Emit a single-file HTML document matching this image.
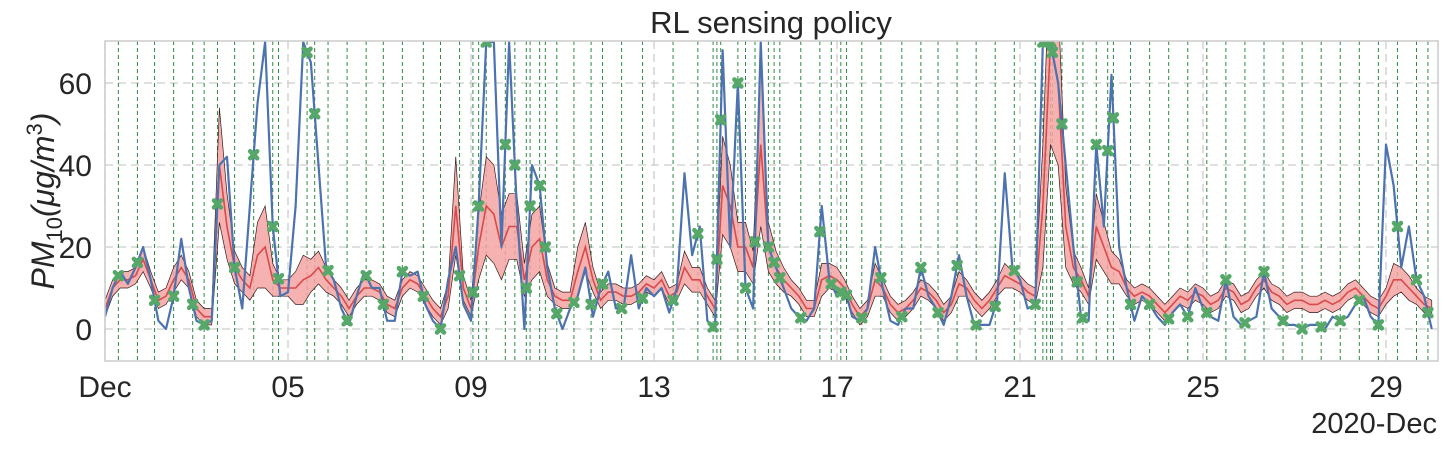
<!DOCTYPE html>
<html><head><meta charset="utf-8"><style>
body{margin:0;background:#fff;}
svg text{font-family:"Liberation Sans",sans-serif;fill:#262626;}
</style></head><body>
<svg id="chart" width="1448" height="447" xmlns="http://www.w3.org/2000/svg">
<text x="771" y="33" font-size="31" text-anchor="middle">RL sensing policy</text>
<text transform="translate(54,201) rotate(-90)" font-size="32" text-anchor="middle" font-style="italic">PM<tspan font-size="22" dy="8" font-style="normal">10</tspan><tspan dy="-8">(μg/m</tspan><tspan font-size="22" dy="-12" font-style="normal">3</tspan><tspan dy="12">)</tspan></text>
<text x="1437" y="433" font-size="29" text-anchor="end">2020-Dec</text>
<g id="grid"></g>
<defs><clipPath id="clip"><rect x="105" y="41" width="1333" height="320"/></clipPath></defs>
<g id="plot" clip-path="url(#clip)"></g>
<g id="axes"></g>
<rect x="105" y="41" width="1333" height="320" fill="none" stroke="#cccccc" stroke-width="1.5"/>
</svg>
<script>
const blue=[3,10,14,11,15,20,12,2,0,8,22,10,2,1,2,40,42,15,5,30,55,70,25,8,9,30,70,65,40,15,12,5,1,8,14,10,10,2,2,14,13,14,6,2,0,12,20,6,2,30,70,70,20,70,30,0,40,35,15,5,0,5,8,15,3,10,14,5,5,18,5,10,8,10,4,10,38,18,25,2,0,68,20,60,10,5,70,20,15,10,5,3,2,5,30,12,8,10,3,2,5,20,10,2,1,5,5,15,8,5,1,8,18,8,1,1,1,7,38,15,12,5,6,70,70,60,40,20,3,2,45,25,62,20,10,2,8,6,3,1,4,6,3,10,5,3,2,12,3,1,2,3,14,5,3,1,1,0,1,1,0,3,2,3,6,8,3,1,45,35,15,25,12,8,0];
const redMean=[5,10,12,12,13,17,12,7,8,12,15,12,5,3,3,40,25,15,12,10,18,20,12,10,10,10,12,13,15,12,10,8,5,8,10,10,9,6,5,10,12,11,8,5,3,8,30,10,5,20,30,28,20,25,25,12,20,22,12,8,7,7,14,20,12,7,9,9,8,8,9,11,10,12,8,9,15,12,12,8,5,35,30,20,20,15,45,20,15,12,10,8,5,5,12,13,12,10,6,3,5,12,10,6,4,5,7,10,9,7,4,6,11,10,7,5,7,10,13,12,11,9,8,30,70,60,25,15,12,8,25,20,15,14,10,8,9,8,6,4,6,8,7,9,8,6,7,10,9,6,7,10,12,9,8,6,7,7,6,6,7,6,7,9,10,8,6,5,8,12,12,10,8,6,5];
const redHalf=[2,2,2,2,2,3,2,2,2,3,3,2,2,2,2,14,8,4,3,3,8,10,4,2,2,4,6,4,4,3,2,2,2,2,2,2,2,2,2,2,2,2,2,2,2,3,12,3,2,8,12,12,8,8,8,4,8,8,4,2,2,2,6,6,3,2,2,2,2,2,2,2,2,2,2,2,4,3,3,2,2,12,10,6,6,4,20,6,4,3,2,2,2,2,4,3,3,2,2,2,2,4,2,2,2,2,2,2,2,2,2,2,3,2,2,2,2,2,3,2,2,2,2,15,25,20,10,4,3,2,8,6,4,3,2,2,2,2,2,2,2,2,2,2,2,2,2,2,2,2,2,2,2,2,2,2,2,2,2,2,2,2,2,2,2,2,2,2,2,4,3,3,2,2,2];
const sampleHours=[7,17,26,36,46,52,59,68,78,88,91,106,110,117,127,137,146,156,167,176,186,193,196,200,210,215,221,223,228,231,237,246,255,261,271,282,298,311,319,321,323,332,336,341,348,351,354,365,375,381,386,389,397,407,418,428,437,447,457,467,477,488,492,494,496,497,502,510,513,520,526,529,538,548,558,568,578,588,598,608,618,628,638,648,658,668,678,688,694];
const yTicks=[0,20,40,60];
const xTickDays=[1,5,9,13,17,21,25,29];
const xTickLabels=["Dec","05","09","13","17","21","25","29"];
const STEP=4;
const NS="http://www.w3.org/2000/svg";
const X0=105,PXD=45.75;
function xh(h){return X0+h/24*PXD;}
function xd(d){return X0+(d-1)*PXD;}
function yv(v){return 329-4.1*v;}
function mk(tag,attrs,parent){const e=document.createElementNS(NS,tag);for(const k in attrs)e.setAttribute(k,attrs[k]);parent.appendChild(e);return e;}
function blueAt(h){const i=h/STEP,i0=Math.floor(i),t=i-i0;const a=blue[Math.min(i0,blue.length-1)],b=blue[Math.min(i0+1,blue.length-1)];return a+(b-a)*t;}
const grid=document.getElementById('grid'),plot=document.getElementById('plot'),axes=document.getElementById('axes');
yTicks.forEach(v=>{
  const l=mk('line',{x1:105,x2:1438,y1:yv(v),y2:yv(v),stroke:'#cccccc','stroke-width':1.3,'stroke-dasharray':'8,5'},grid);
  
  
  const t=mk('text',{x:92,y:yv(v)+11,'font-size':30,'text-anchor':'end'},axes);
  t.textContent=String(v);
  
  
});
xTickDays.forEach((d,i)=>{
  const l=mk('line',{x1:xd(d),x2:xd(d),y1:41,y2:361,stroke:'#cccccc','stroke-width':1.3,'stroke-dasharray':'8,5'},grid);
  
  
  const t=mk('text',{x:xd(d),y:397,'font-size':30,'text-anchor':'middle'},axes);
  t.textContent=xTickLabels[i];
  
  
});
sampleHours.forEach(h=>{
  const l=mk('line',{x1:xh(h),x2:xh(h),y1:41,y2:361,stroke:'#2f8a45','stroke-width':1,'stroke-dasharray':'4,3'},plot);
  
  
});
let up=[],lo=[];
redMean.forEach((m,i)=>{up.push(xh(i*STEP)+','+yv(m+redHalf[i]));lo.push(xh(i*STEP)+','+yv(Math.max(m-redHalf[i],-1)));});
const band=mk('polygon',{points:up.concat(lo.reverse()).join(' '),fill:'#f4a3a3','fill-opacity':0.85,stroke:'#3a1a1a','stroke-width':0.7},plot);


const mline=mk('polyline',{points:redMean.map((m,i)=>xh(i*STEP)+','+yv(m)).join(' '),fill:'none',stroke:'#d94a4a','stroke-width':1.6},plot);


const bline=mk('polyline',{points:blue.map((v,i)=>xh(i*STEP)+','+yv(v)).join(' '),fill:'none',stroke:'#4c72b0','stroke-width':2.2,'stroke-linejoin':'round'},plot);


sampleHours.forEach(h=>{
  const x=xh(h),y=yv(blueAt(h));
  const g=mk('path',{d:`M${x-3.5},${y-3.5}L${x+3.5},${y+3.5}M${x+3.5},${y-3.5}L${x-3.5},${y+3.5}`,stroke:'#55a868','stroke-width':4.5,'stroke-linecap':'round'},plot);
  
  
});
</script>
</body></html>
